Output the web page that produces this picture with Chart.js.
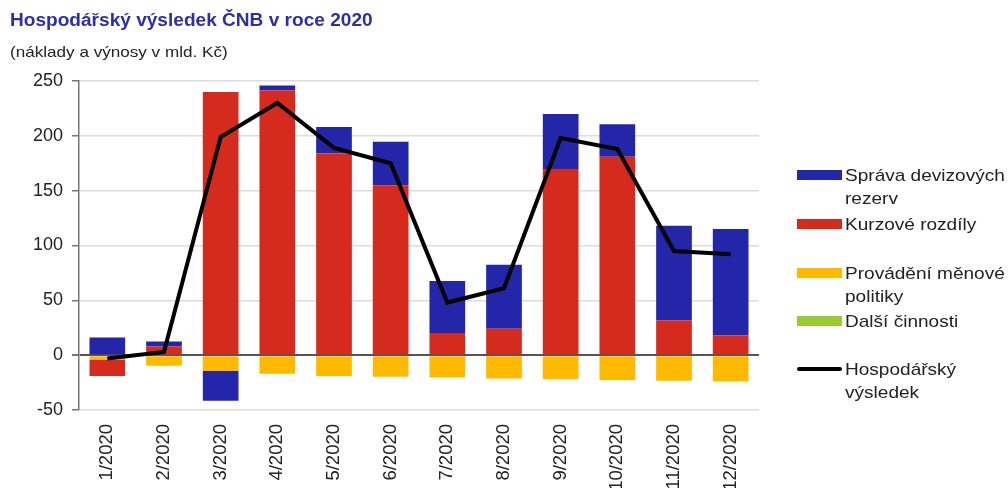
<!DOCTYPE html>
<html>
<head>
<meta charset="utf-8">
<script src="https://cdn.jsdelivr.net/npm/chart.js@4"></script>
<style>
  body { margin: 0; background: #fff; font-family: 'Liberation Sans', Arial, sans-serif; }
  #wrap { position: relative; width: 1008px; height: 488px; }
  #title { position: absolute; left: 10px; top: 10px; font-size: 17.5px; font-weight: bold; color: #2e2ea6; white-space: nowrap;
           transform: scaleX(1.09); transform-origin: left top; }
  #subtitle { position: absolute; left: 10px; top: 43px; font-size: 15px; color: #222; white-space: nowrap;
              transform: scaleX(1.14); transform-origin: left top; }
  #legend { position: absolute; left: 797px; top: 0; width: 211px; }
  .item { position: absolute; left: 0; font-size: 17px; color: #222; line-height: 20px; }
  .item .sw { position: absolute; left: 0; width: 45px; }
  .item .tx { position: absolute; left: 48px; white-space: nowrap; transform: scaleX(1.12); transform-origin: left top; }
</style>
</head>
<body>
<div id="wrap">
  <canvas id="chart" width="1008" height="488"></canvas>
  <div id="title">Hospodářský výsledek ČNB v roce 2020</div>
  <div id="subtitle">(náklady a výnosy v mld. Kč)</div>
  <div id="legend"></div>
</div>
<script>
const months = ['1/2020', '2/2020', '3/2020', '4/2020', '5/2020', '6/2020',
    '7/2020', '8/2020', '9/2020', '10/2020', '11/2020', '12/2020'];

// mld. Kč
const spravaRezerv = [16, 4.5, -27, 4.5, 24, 39.5, 47.3, 58.2, 50.3, 29.6, 86.2, 97.1];
const kurzoveRozdily = [-15, 8, 240, 241.5, 184, 155, 20.3, 24.2, 169.7, 181, 31.8, 17.9];
const menovaPolitika = [-4, -9.7, -14.5, -17, -19, -19.7, -20.3, -21.2, -22, -22.7, -23.3, -24];
const dalsiCinnosti = [0, 0, 0, 0, 0, 0, 0, 0, 0, 0, 0, 0];
const vysledek = [-3, 3, 199, 230, 189, 175, 48, 61, 198, 188, 95, 92];

const yTicks = [-50, 0, 50, 100, 150, 200, 250];

const colors = {
    rezervy: '#2326a8',
    kurz: '#d52b1e',
    politika: '#ffba00',
    dalsi: '#99cc33',
    vysledek: '#000000'
};

const ctx = document.getElementById('chart');

new Chart(ctx, {
    data: {
        labels: months,
        datasets: [
            { type: 'line', label: 'Hospodářský výsledek', data: vysledek, borderColor: colors.vysledek,
              borderWidth: 4, pointRadius: 0, tension: 0, order: 0 },
            // pořadí kvůli skládání sloupců
            { type: 'bar', label: 'Provádění měnové politiky', data: menovaPolitika, backgroundColor: colors.politika, order: 1 },
            { type: 'bar', label: 'Další činnosti', data: dalsiCinnosti, backgroundColor: colors.dalsi, order: 1 },
            { type: 'bar', label: 'Kurzové rozdíly', data: kurzoveRozdily, backgroundColor: colors.kurz, order: 1 },
            { type: 'bar', label: 'Správa devizových rezerv', data: spravaRezerv, backgroundColor: colors.rezervy, order: 1 }
        ]
    },
    options: {
        responsive: false,
        animation: false,
        datasets: { bar: { categoryPercentage: 0.63, barPercentage: 1 } },
        layout: { padding: { left: 0, right: 249, top: 81, bottom: 0 } },
        plugins: { legend: { display: false }, tooltip: { enabled: false } },
        scales: {
            x: {
                stacked: true,
                grid: { display: false },
                border: { display: false },
                ticks: {
                    minRotation: 90, maxRotation: 90, padding: 6,
                    color: '#222', font: { family: "'Liberation Sans', Arial", size: 18.5 }
                },
                afterFit: (scale) => { scale.height = 78; }
            },
            y: {
                stacked: true,
                min: -50, max: 250,
                afterBuildTicks: (scale) => { scale.ticks = yTicks.map(v => ({ value: v })); },
                grid: {
                    color: (c) => c.tick && c.tick.value === 0 ? '#555' : '#dcdcdc',
                    lineWidth: (c) => c.tick && c.tick.value === 0 ? 2 : 1.5,
                    tickLength: 7,
                    tickColor: '#777'
                },
                border: { color: '#777', width: 1.5 },
                ticks: {
                    padding: 9, color: '#222',
                    font: { family: "'Liberation Sans', Arial", size: 18 }
                },
                afterFit: (scale) => { scale.width = 79; }
            }
        }
    }
});

// legenda vpravo
const legendItems = [
    { lines: ['Správa devizových', 'rezerv'], color: colors.rezervy, y: 175, h: 10 },
    { lines: ['Kurzové rozdíly'], color: colors.kurz, y: 224, h: 10 },
    { lines: ['Provádění měnové', 'politiky'], color: colors.politika, y: 273, h: 10 },
    { lines: ['Další činnosti'], color: colors.dalsi, y: 321, h: 10 },
    { lines: ['Hospodářský', 'výsledek'], color: colors.vysledek, y: 369, h: 4 }
];
const legend = document.getElementById('legend');
legendItems.forEach(it => {
    const div = document.createElement('div');
    div.className = 'item';
    div.style.top = (it.y - 10) + 'px';
    const sw = document.createElement('div');
    sw.className = 'sw';
    sw.style.background = it.color;
    sw.style.height = it.h + 'px';
    sw.style.top = (10 - it.h / 2) + 'px';
    if (it.h < 6) sw.style.borderRadius = '2px';
    const tx = document.createElement('div');
    tx.className = 'tx';
    tx.innerHTML = it.lines.join('<br>');
    tx.style.lineHeight = '23px';
    tx.style.top = '-1px';
    div.appendChild(sw);
    div.appendChild(tx);
    legend.appendChild(div);
});
</script>
</body>
</html>
